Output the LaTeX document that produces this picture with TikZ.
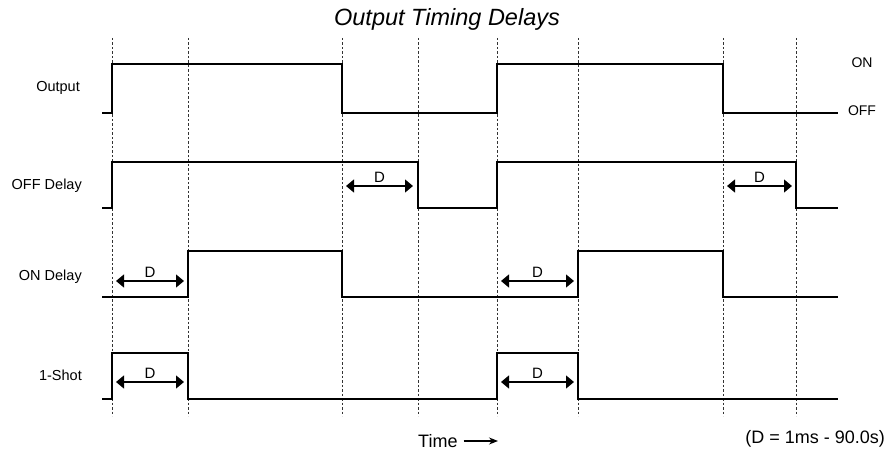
\documentclass[tikz,border=0pt]{standalone}
\usepackage{fontspec}
\setmainfont{Liberation Sans}
\usetikzlibrary{arrows.meta,calc}
\begin{document}
\begin{tikzpicture}[x=1pt,y=-1pt,
 wave/.style={line width=1.2pt, line join=miter},
 guide/.style={line width=0.8pt, dash pattern=on 2.5pt off 2pt, black!80},
 darr/.style={line width=1.3pt, {Triangle[length=8pt,width=13pt]}-{Triangle[length=8pt,width=13pt]}},
 lab/.style={font=\fontsize{14.5}{17}\selectfont, anchor=east, inner sep=0pt},
 rlab/.style={font=\fontsize{14}{16}\selectfont, inner sep=0pt},
 dl/.style={font=\fontsize{15}{17}\selectfont, inner sep=0pt},
 btxt/.style={font=\fontsize{18}{20}\selectfont, inner sep=0pt}]
\useasboundingbox (0,0) rectangle (888,454);
% title
\node[font=\fontsize{23.5}{27}\selectfont\itshape, inner sep=0pt] (title) at (447,19) {Output Timing Delays};
% guide lines
\foreach \x in {112,188,342,418,497,578,723,796} \draw[guide] (\x,38) -- (\x,416);
% row labels
\node[lab] (lout) at (80,88) {Output};
\node[lab] (loff) at (82,186) {OFF Delay};
\node[lab] (lon) at (82,277) {ON Delay};
\node[lab] (lone) at (82,375) {1-Shot};
\node[rlab] (roff) at (862,111) {OFF};
\node[rlab] (ron) at (roff.center |- 0,63) {ON};
% waveforms
\draw[wave] (102,113) -- (112,113) -- (112,64) -- (342,64) -- (342,113) -- (497,113) -- (497,64) -- (723,64) -- (723,113) -- (838,113);
\draw[wave] (102,208) -- (112,208) -- (112,162) -- (418,162) -- (418,208) -- (497,208) -- (497,162) -- (796,162) -- (796,208) -- (838,208);
\draw[wave] (102,297) -- (188,297) -- (188,251) -- (342,251) -- (342,297) -- (578,297) -- (578,251) -- (723,251) -- (723,297) -- (838,297);
\draw[wave] (102,399) -- (112,399) -- (112,353) -- (188,353) -- (188,399) -- (497,399) -- (497,353) -- (578,353) -- (578,399) -- (838,399);
% delay arrows
\coordinate (a1) at (346,186); \coordinate (b1) at (413,186);
\coordinate (a2) at (727,186); \coordinate (b2) at (792,186);
\coordinate (a3) at (116,281); \coordinate (b3) at (184,281);
\coordinate (a4) at (501,281); \coordinate (b4) at (574,281);
\coordinate (a5) at (116,382); \coordinate (b5) at (184,382);
\coordinate (a6) at (501,382); \coordinate (b6) at (574,382);
\foreach \i in {1,...,6} {
  \draw[darr] (a\i) -- (b\i);
  \node[dl, anchor=south] (d\i) at ($(a\i)!0.5!(b\i)+(0,-3)$) {D};
}
% bottom
\node[btxt, anchor=west] (time) at (418,441) {Time};
\coordinate (tarrow) at (498,441);
\draw[line width=1.2pt, -{Stealth[length=9pt,width=7pt]}] ([xshift=6pt]time.east) -- (tarrow);
\node[btxt, anchor=east] (range) at (885,439) {(D = 1ms - 90.0s)};
\end{tikzpicture}
\end{document}
